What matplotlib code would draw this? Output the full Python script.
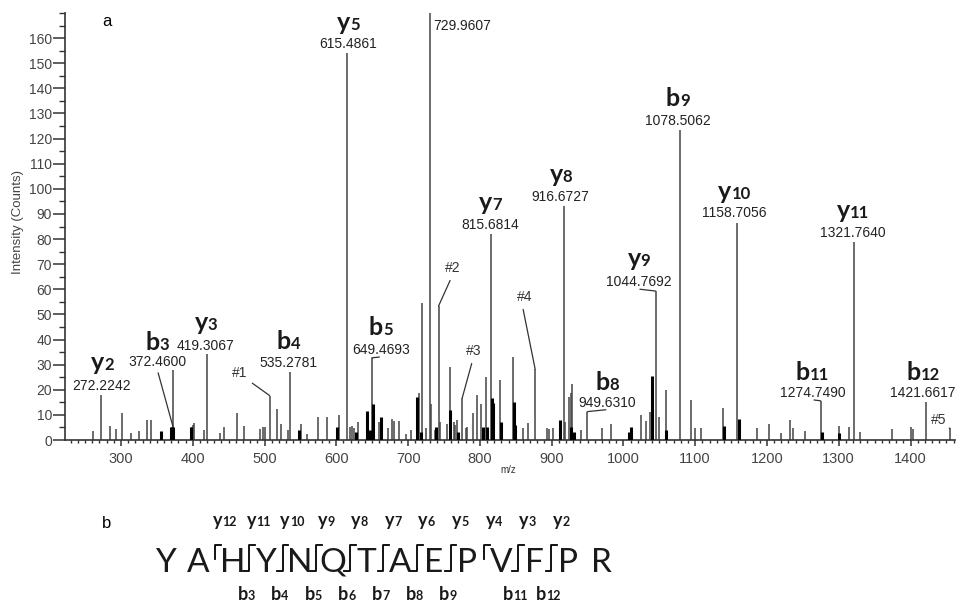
import matplotlib
matplotlib.use("Agg")
import matplotlib.pyplot as plt
from matplotlib.ticker import MultipleLocator

# ---- spectrum (panel a) ----
# gray sticks: m/z and counts
mz = [261.4, 272.2242, 284.7, 292.6, 301.4, 314.0, 325.0, 336.6, 341.4, 372.9,
      398.4, 400.5, 402.0, 415.6, 419.3067, 437.9, 443.5, 461.0, 472.0, 493.6,
      497.4, 500.5, 507.0, 517.3, 522.4, 532.0, 535.2781, 550.7, 559.5, 574.8,
      586.5, 603.2, 615.4861, 619.0, 622.0, 625.0, 630.5, 644.5, 649.4693, 652.0,
      659.8, 671.4, 677.0, 680.2, 687.2, 697.0, 703.9, 714.6, 719.2, 724.4,
      729.9607, 731.3, 737.3, 742.4, 745.0, 754.3, 758.0, 763.3, 765.5, 767.5,
      775.4, 780.0, 782.0, 791.0, 795.4, 801.0, 808.4, 815.6814, 827.9, 845.5,
      859.5, 867.3, 877.0, 892.9, 896.5, 902.0, 916.6727, 919.3, 924.4, 926.7,
      929.0, 941.6, 949.6310, 970.4, 983.0, 1024.2, 1032.0, 1036.8, 1044.7692, 1048.9,
      1060.0, 1078.5062, 1094.8, 1100.4, 1108.7, 1138.9, 1158.7056, 1162.0, 1186.2, 1202.9,
      1219.2, 1232.7, 1236.4, 1253.6, 1274.7490, 1300.0, 1314.4, 1321.7640, 1329.3, 1374.8,
      1400.3, 1403.5, 1421.6617, 1454.6]
counts = [3.6, 18.0, 5.6, 4.3, 10.7, 2.9, 3.6, 8.0, 8.0, 28.0,
          5.3, 6.0, 6.7, 4.0, 34.4, 2.7, 5.0, 10.7, 5.6, 4.4,
          5.3, 5.0, 17.7, 12.3, 6.3, 4.0, 27.0, 6.3, 2.4, 9.0,
          9.0, 10.0, 154.0, 5.3, 5.6, 4.7, 7.3, 10.7, 32.7, 7.3,
          7.3, 4.7, 8.3, 7.6, 7.6, 2.4, 4.0, 18.7, 54.4, 4.7,
          180.0, 14.4, 4.0, 53.3, 7.3, 6.4, 29.0, 7.3, 6.0, 8.0,
          16.7, 4.7, 5.0, 10.7, 18.0, 14.4, 25.0, 82.0, 24.0, 33.0,
          4.7, 6.7, 28.3, 4.7, 4.3, 4.7, 93.3, 7.3, 17.0, 18.7,
          22.3, 4.0, 11.3, 4.7, 6.3, 10.0, 7.7, 11.0, 59.3, 9.3,
          20.0, 123.3, 16.0, 4.7, 4.7, 12.7, 86.4, 2.7, 4.7, 6.3,
          2.9, 8.0, 4.7, 3.6, 15.6, 5.6, 5.0, 78.9, 3.0, 4.3,
          5.3, 4.3, 15.3, 4.7]

# black sticks drawn on top
dark_mz = [355.7, 369.8, 370.8, 371.8, 397.5, 548.0, 600.4, 627.0, 642.2, 647.0,
           650.5, 661.7, 712.7, 717.8, 739.0, 759.0, 769.0, 804.0, 810.0, 816.5,
           818.0, 830.0, 847.0, 848.5, 911.4, 927.5, 930.5, 1007.5, 1010.0, 1040.5,
           1059.0, 1139.5, 1160.6, 1276.0, 1300.8]
dark_counts = [3.6, 5.0, 5.3, 5.3, 5.0, 4.0, 5.0, 3.3, 11.7, 4.0,
               14.4, 9.0, 17.0, 3.0, 5.3, 12.0, 3.3, 5.3, 5.3, 16.7,
               14.7, 7.3, 15.0, 6.0, 8.0, 5.3, 3.0, 3.3, 5.3, 25.3,
               4.0, 5.7, 8.3, 3.3, 2.7]

# assigned fragment ions
ion_names = ["y2", "b3", "y3", "b4", "y5", "b5", "y7", "y8", "b8", "y9",
             "b9", "y10", "b11", "y11", "b12"]
ion_mz = [272.2242, 372.4600, 419.3067, 535.2781, 615.4861, 649.4693, 815.6814,
          916.6727, 949.6310, 1044.7692, 1078.5062, 1158.7056, 1274.7490,
          1321.7640, 1421.6617]
ion_counts = [18.0, 5.3, 34.4, 27.0, 154.0, 32.7, 82.0, 93.3, 11.3, 59.3,
              123.3, 86.4, 15.6, 78.9, 15.3]

mark_names = ["#1", "#2", "#3", "#4", "#5"]
mark_mz = [507.0, 742.4, 775.4, 877.0, 1454.6]
mark_counts = [17.7, 53.3, 16.7, 28.3, 4.7]

base_peak = 729.9607

# ---- sequence (panel b) ----
residues = list("YAHYNQTAEPVFPR")
y_numbers = [12, 11, 10, 9, 8, 7, 6, 5, 4, 3, 2]
b_numbers = [3, 4, 5, 6, 7, 8, 9, 11, 12]

DPI = 100
PT = 72 / DPI  # points per pixel
SANS = "Liberation Sans"
CAL = "Lato"

fig = plt.figure(figsize=(9.58, 6.03), dpi=DPI)
ax = fig.add_axes([65 / 958, 163 / 603, 890 / 958, 427 / 603])

ax.vlines(mz, 0, counts, color="#444444", lw=1.1, zorder=2)
ax.vlines(dark_mz, 0, dark_counts, color="black", lw=2.2, zorder=3)

ax.set_xlim(222, 1462)
ax.set_ylim(0, 170)
ax.spines[["top", "right"]].set_visible(False)
for s in ["left", "bottom"]:
    ax.spines[s].set_color("#333333")
    ax.spines[s].set_linewidth(1.2)
ax.xaxis.set_major_locator(MultipleLocator(100))
ax.xaxis.set_minor_locator(MultipleLocator(10))
ax.set_yticks(range(0, 161, 10))
ax.yaxis.set_minor_locator(MultipleLocator(5))
ax.tick_params(axis="x", which="major", length=6 * PT, width=1.1, pad=6 * PT,
               labelsize=10.5, color="#333333", labelcolor="#444444")
ax.tick_params(axis="x", which="minor", length=3 * PT, width=1.0, color="#333333")
ax.tick_params(axis="y", which="major", length=12 * PT, width=1.1, pad=1 * PT,
               labelsize=10, color="#333333", labelcolor="#444444")
ax.tick_params(axis="y", which="minor", length=6 * PT, width=1.0, color="#333333")
for t in ax.get_xticklabels() + ax.get_yticklabels():
    t.set_family(SANS)


def ion_label(a, x, y, name, dx, dy, fs1, fs2):
    # bold letter with smaller digits on the same baseline, centred at dx (points)
    letter, num = name[0], name[1:]
    wl = 0.56 * fs1
    wd = 0.58 * fs2 * len(num)
    anchor = dx + (wl - wd) / 2
    kw = dict(textcoords="offset points", va="baseline", family=CAL,
              fontweight="bold", color="#1a1a1a", annotation_clip=False)
    a.annotate(letter, (x, y), xytext=(anchor, dy), ha="right", fontsize=fs1, **kw)
    a.annotate(num, (x, y), xytext=(anchor, dy), ha="left", fontsize=fs2, **kw)


# label layout in pixels: (dx, number baseline above peak, ion baseline above peak, leader)
ion_layout = [(1, 5, 25, False), (-16, 61, 77, True), (-1, 4, 24, False),
              (-1, 5, 23, False), (1, 5, 23, False), (9, 4, 23, True),
              (-1, 5, 24, False), (-3, 5, 24, False), (20, 5, 22, True),
              (-17, 5, 25, True), (-2, 5, 24, False), (-3, 6, 24, False),
              (-8, 4, 21, True), (-2, 5, 24, False), (-3, 5, 22, False)]

for name, x, y, (dx, nb, ib, lead) in zip(ion_names, ion_mz, ion_counts, ion_layout):
    arrow = None
    if lead:
        arrow = dict(arrowstyle="-", color="#333333", lw=0.9, shrinkA=1, shrinkB=0,
                     relpos=(0.5, 0))
    ax.annotate(f"{x:.4f}", (x, y), xytext=(dx * PT, nb * PT), textcoords="offset points",
                ha="center", va="baseline", fontsize=10, family=SANS, color="#222222",
                arrowprops=arrow)
    ion_label(ax, x, y, name, dx * PT, ib * PT, 18, 12)

# unassigned marks with leader lines: (dx, baseline above peak, relpos x)
mark_layout = [(-30, 19, 1.0), (14, 34, 0.5), (11, 43, 0.5), (-10, 68, 0.3), (-11, 4, 0.75)]
for name, x, y, (dx, b, rx) in zip(mark_names, mark_mz, mark_counts, mark_layout):
    ax.annotate(name, (x, y), xytext=(dx * PT, b * PT), textcoords="offset points",
                ha="center", va="baseline", fontsize=10, family=SANS, color="#333333",
                arrowprops=dict(arrowstyle="-", color="#333333", lw=0.9,
                                shrinkA=2, shrinkB=0, relpos=(rx, 0)))

ax.annotate(f"{base_peak:.4f}", (base_peak, 170), xytext=(4 * PT, -17 * PT),
            textcoords="offset points", ha="left", va="baseline", fontsize=10,
            family=SANS, color="#222222", annotation_clip=False)

fig.text(18 / 958, 1 - 222 / 603, "Intensity (Counts)", rotation=90, ha="center",
         va="center", fontsize=9.5, family=SANS, color="#444444")
fig.text(508 / 958, 1 - 470 / 603, "m/z", ha="center", va="center", fontsize=7,
         family=SANS, color="#333333")
fig.text(107 / 958, 1 - 22 / 603, "a", ha="center", va="center", fontsize=12, family=SANS)
fig.text(107 / 958, 1 - 524 / 603, "b", ha="center", va="center", fontsize=12, family=SANS)

# ---- panel b: sequence with fragmentation marks ----
axb = fig.add_axes([0, 0, 1, 0.17])
step = 33.6
axb.set_xlim(-165 / step, (958 - 165) / step)
axb.set_ylim(0, 1)
axb.axis("off")

for i, r in enumerate(residues):
    axb.text(i, 0.305, r, ha="center", va="baseline", fontsize=24, family=CAL,
             color="#1a1a1a")

n = len(residues)
y_sites = [n - k - 0.5 for k in y_numbers]
b_sites = [k - 0.5 for k in b_numbers]
top, bot, mid, hook = 0.57, 0.31, 0.43, 0.17
for s in y_sites:
    if s in b_sites:
        axb.plot([s - hook, s, s, s + hook], [bot, bot, top, top], color="black", lw=1.3,
                 solid_joinstyle="round")
    else:
        axb.plot([s, s, s + hook], [mid, top, top], color="black", lw=1.3)

for k, s in zip(y_numbers, y_sites):
    ion_label(axb, s + 0.28, 0.751, f"y{k}", 0, 0, 13, 9)
for k, s in zip(b_numbers, b_sites):
    ion_label(axb, s - 0.08, 0.03, f"b{k}", 0, 0, 13, 9)

fig.savefig("out.png", dpi=DPI)
